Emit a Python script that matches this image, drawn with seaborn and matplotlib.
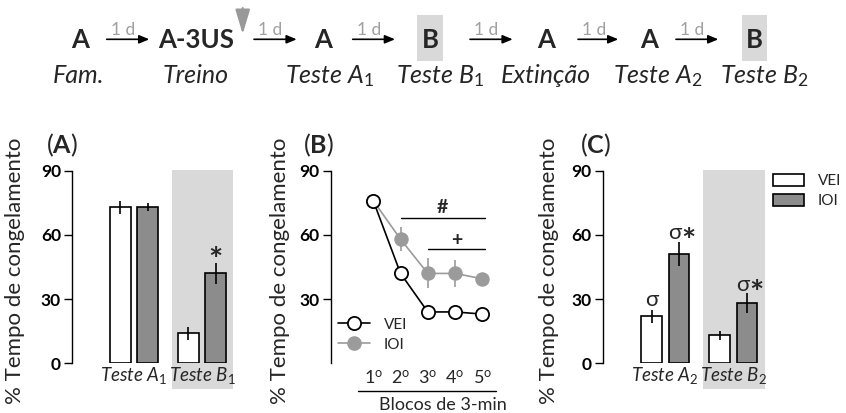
import numpy as np
import pandas as pd
import matplotlib
matplotlib.use("Agg")
import matplotlib.pyplot as plt
import seaborn as sns
from matplotlib.patches import Rectangle, Patch
from matplotlib.lines import Line2D

# ---------------- data ----------------
grupos = ["VEI", "IOI"]

testes_A = ["Teste A$_\\mathit{1}$", "Teste B$_\\mathit{1}$"]
vei_A = [73, 14]
vei_A_err = [3, 3]
ioi_A = [73, 42]
ioi_A_err = [2, 5]

blocos = ["1$^\\mathrm{o}$", "2$^\\mathrm{o}$", "3$^\\mathrm{o}$", "4$^\\mathrm{o}$", "5$^\\mathrm{o}$"]
vei_B = [76, 42, 24, 24, 23]
vei_B_err = [1, 1.5, 1, 1, 1]
ioi_B = [76, 58, 42, 42, 39.5]
ioi_B_err = [1, 5.5, 7, 6.5, 2]

testes_C = ["Teste A$_\\mathit{2}$", "Teste B$_\\mathit{2}$"]
vei_C = [22, 13]
vei_C_err = [3, 2]
ioi_C = [51, 28]
ioi_C_err = [5.5, 4.7]

yticks_bar = [0, 30, 60, 90]
yticks_line = [30, 60, 90]

etapas = ["A", "A-3US", "A", "B", "A", "A", "B"]
etapas_nomes = ["Fam.", "Treino", "Teste A$_\\mathit{1}$", "Teste B$_\\mathit{1}$",
                "Extinção", "Teste A$_\\mathit{2}$", "Teste B$_\\mathit{2}$"]
intervalo = "1 d"

# ---------------- style ----------------
sns.set_style("white")
plt.rcParams["font.family"] = ["Lato", "DejaVu Sans"]
plt.rcParams["mathtext.fontset"] = "custom"
plt.rcParams["mathtext.rm"] = "Lato"
plt.rcParams["mathtext.it"] = "Lato:italic"
plt.rcParams["mathtext.bf"] = "Lato:bold"

GRAY_BAR = "#8c8c8c"
GRAY_PT = "#9b9b9b"
SHADE = "#d9d9d9"
W, H = 846, 413

fig = plt.figure(figsize=(W / 100, H / 100), dpi=100)

# overlay in pixel coordinates for the timeline and panel titles
ax0 = fig.add_axes([0, 0, 1, 1])
ax0.set_xlim(0, W)
ax0.set_ylim(H, 0)
ax0.axis("off")

def fr(px_left, px_top, px_right, px_bottom):
    return [px_left / W, (H - px_bottom) / H, (px_right - px_left) / W, (px_bottom - px_top) / H]

axA = fig.add_axes(fr(72, 170.7, 233.3, 363.3))
axB = fig.add_axes(fr(330.7, 170.7, 496, 363.3))
axC = fig.add_axes(fr(602.7, 170.7, 765, 363.3))


def style_y(ax, ticks, label_off):
    ax.set_ylim(0, 90)
    ax.set_yticks(ticks)
    sns.despine(ax=ax, bottom=True)
    ax.spines["left"].set_linewidth(1.0)
    ax.spines["left"].set_color("black")
    ax.tick_params(axis="y", length=6, width=1.0, pad=2, labelsize=12.5, colors="black", left=True)
    for t in ax.get_yticklabels():
        t.set_fontweight("bold")
    ax.set_ylabel("% Tempo de congelamento", fontsize=16)
    ax.yaxis.set_label_coords(label_off, 0.48)
    ax.patch.set_alpha(0)


def bar_panel(ax, cats, vei, vei_err, ioi, ioi_err, shade_x, label_off):
    df = pd.DataFrame({"teste": cats * 2,
                       "grupo": ["VEI"] * len(cats) + ["IOI"] * len(cats),
                       "val": vei + ioi})
    sns.barplot(data=df, x="teste", y="val", hue="grupo", order=cats, hue_order=grupos,
                palette={"VEI": "white", "IOI": GRAY_BAR}, edgecolor="black", linewidth=1.2,
                gap=0.25, width=0.8, errorbar=None, legend=False, ax=ax, zorder=2)
    for cont, err in zip(ax.containers, [vei_err, ioi_err]):
        xs = [p.get_x() + p.get_width() / 2 for p in cont]
        ys = [p.get_height() for p in cont]
        ax.errorbar(xs, ys, yerr=err, fmt="none", ecolor="black", elinewidth=1.2, capsize=0, zorder=3)
    ax.add_patch(Rectangle((shade_x[0], -12), shade_x[1] - shade_x[0], 102.3, facecolor=SHADE,
                           edgecolor="none", zorder=0, clip_on=False))
    style_y(ax, yticks_bar, label_off)
    ax.set_xlabel("")
    ax.tick_params(axis="x", length=0, pad=1, labelsize=13.5)
    for t in ax.get_xticklabels():
        t.set_fontstyle("italic")


# ---- Panel A ----
bar_panel(axA, testes_A, vei_A, vei_A_err, ioi_A, ioi_A_err, (0.559, 1.46), -0.291)
axA.set_xlim(-0.912, 1.46)
axA.text(1.2, 47.5, "*", ha="center", va="center", fontsize=24, fontweight="bold")

# ---- Panel C ----
bar_panel(axC, testes_C, vei_C, vei_C_err, ioi_C, ioi_C_err, (0.55, 1.466), -0.272)
axC.set_xlim(-0.92, 1.466)
axC.text(-0.2, 29.6, "σ", ha="center", va="center", fontsize=16)
for xi, yi in [(0.2, 61), (1.2, 36.6)]:
    axC.text(xi + 0.03, yi, "σ", ha="right", va="center", fontsize=16)
    axC.text(xi + 0.03, yi - 4.5, "*", ha="left", va="center", fontsize=24, fontweight="bold")
legC = axC.legend(handles=[Patch(facecolor="white", edgecolor="black", linewidth=1.2),
                           Patch(facecolor=GRAY_BAR, edgecolor="black", linewidth=1.2)],
                  labels=grupos, loc="upper left", bbox_to_anchor=(1.051, 0.985), frameon=False,
                  fontsize=11, handlelength=2.0, handleheight=0.85, handletextpad=0.9,
                  labelspacing=0.4, borderpad=0, borderaxespad=0)

# ---- Panel B ----
dfB = pd.DataFrame({"bloco": blocos * 2, "grupo": ["IOI"] * 5 + ["VEI"] * 5, "val": ioi_B + vei_B})
sns.pointplot(data=dfB, x="bloco", y="val", hue="grupo", order=blocos, hue_order=["IOI", "VEI"],
              palette={"VEI": "black", "IOI": GRAY_PT}, markers="o", errorbar=None,
              dodge=False, legend=False, linewidth=1.2, markersize=9.5, ax=axB)
ioi_line, vei_line = axB.lines[0], axB.lines[1]
vei_line.set_markerfacecolor("white")
vei_line.set_markeredgecolor("black")
vei_line.set_markeredgewidth(1.3)
vei_line.set_zorder(5)
ioi_line.set_markerfacecolor(GRAY_PT)
ioi_line.set_markeredgecolor(GRAY_PT)
ioi_line.set_zorder(4)
for line, err, col in [(ioi_line, ioi_B_err, GRAY_PT), (vei_line, vei_B_err, "black")]:
    axB.errorbar(line.get_xdata(), line.get_ydata(), yerr=err, fmt="none", ecolor=col,
                 elinewidth=1.2, capsize=0, zorder=3)
style_y(axB, yticks_line, -0.246)
axB.set_xlim(-1.56, 4.5)
axB.set_xlabel("")
axB.tick_params(axis="x", length=0, pad=4, labelsize=13)
axB.plot([0.165, 1.0], [-0.142, -0.142], transform=axB.transAxes, color="black", lw=1.0, clip_on=False)
axB.text(0.679, -0.216, "Blocos de 3-min", transform=axB.transAxes, ha="center", va="center", fontsize=13)
# significance marks
axB.plot([1.0, 4.1], [68, 68], color="black", lw=1.0)
axB.text(2.55, 73, "#", ha="center", va="center", fontsize=14, fontweight="bold")
axB.plot([2.02, 4.1], [53.4, 53.4], color="black", lw=1.0)
axB.text(3.06, 57.3, "+", ha="center", va="center", fontsize=14, fontweight="bold")
axB.legend(handles=[Line2D([], [], color="black", marker="o", mfc="white", mec="black", mew=1.3, ms=9.5, lw=1.2),
                    Line2D([], [], color=GRAY_PT, marker="o", mfc=GRAY_PT, mec=GRAY_PT, ms=9.5, lw=1.2)],
           labels=grupos, loc="lower left", bbox_to_anchor=(0.044, 0.06), frameon=False, fontsize=11,
           handlelength=2.1, handletextpad=0.9, labelspacing=0.4, borderpad=0, borderaxespad=0)

# ---- panel titles ----
for x, letter in [(61.7, "A"), (318, "B"), (595, "C")]:
    ax0.text(x, 145, "($\\mathbf{%s}$)" % letter, ha="center", va="center", fontsize=18)

# ---- timeline ----
node_x = [80, 195.7, 323, 430, 546, 649, 754.3]
name_x = [78.3, 195.7, 330, 440, 546, 658, 764]
arrow_x = [(106.7, 149.3), (254, 296.7), (352.7, 395), (470, 512.7), (578, 618.3), (676, 718.3)]
for txt, x in zip(etapas, node_x):
    if txt == "B":
        ax0.add_patch(Rectangle((x - 12.8, 15), 25.6, 45.7, facecolor=SHADE, edgecolor="none", zorder=0))
    ax0.text(x, 48.3, txt, ha="center", va="baseline", fontsize=18.5, fontweight="bold", zorder=2)
for txt, x in zip(etapas_nomes, name_x):
    ax0.text(x, 83.3, txt, ha="center", va="baseline", fontsize=18, fontstyle="italic")
for x0, x1 in arrow_x:
    ax0.annotate("", xy=(x1, 39.3), xytext=(x0, 39.3),
                 arrowprops=dict(arrowstyle="-|>,head_length=0.6,head_width=0.25", color="black",
                                 lw=1.2, shrinkA=0, shrinkB=0))
    ax0.text(x0 + 16, 35, intervalo, ha="center", va="baseline", fontsize=12.5, color="#a0a0a0")
ax0.annotate("", xy=(242.7, 34), xytext=(242.7, 8),
             arrowprops=dict(arrowstyle="-|>,head_length=1.5,head_width=0.45", color="#999999",
                             lw=1.5, shrinkA=0, shrinkB=0))

fig.savefig("out.png", dpi=100)
